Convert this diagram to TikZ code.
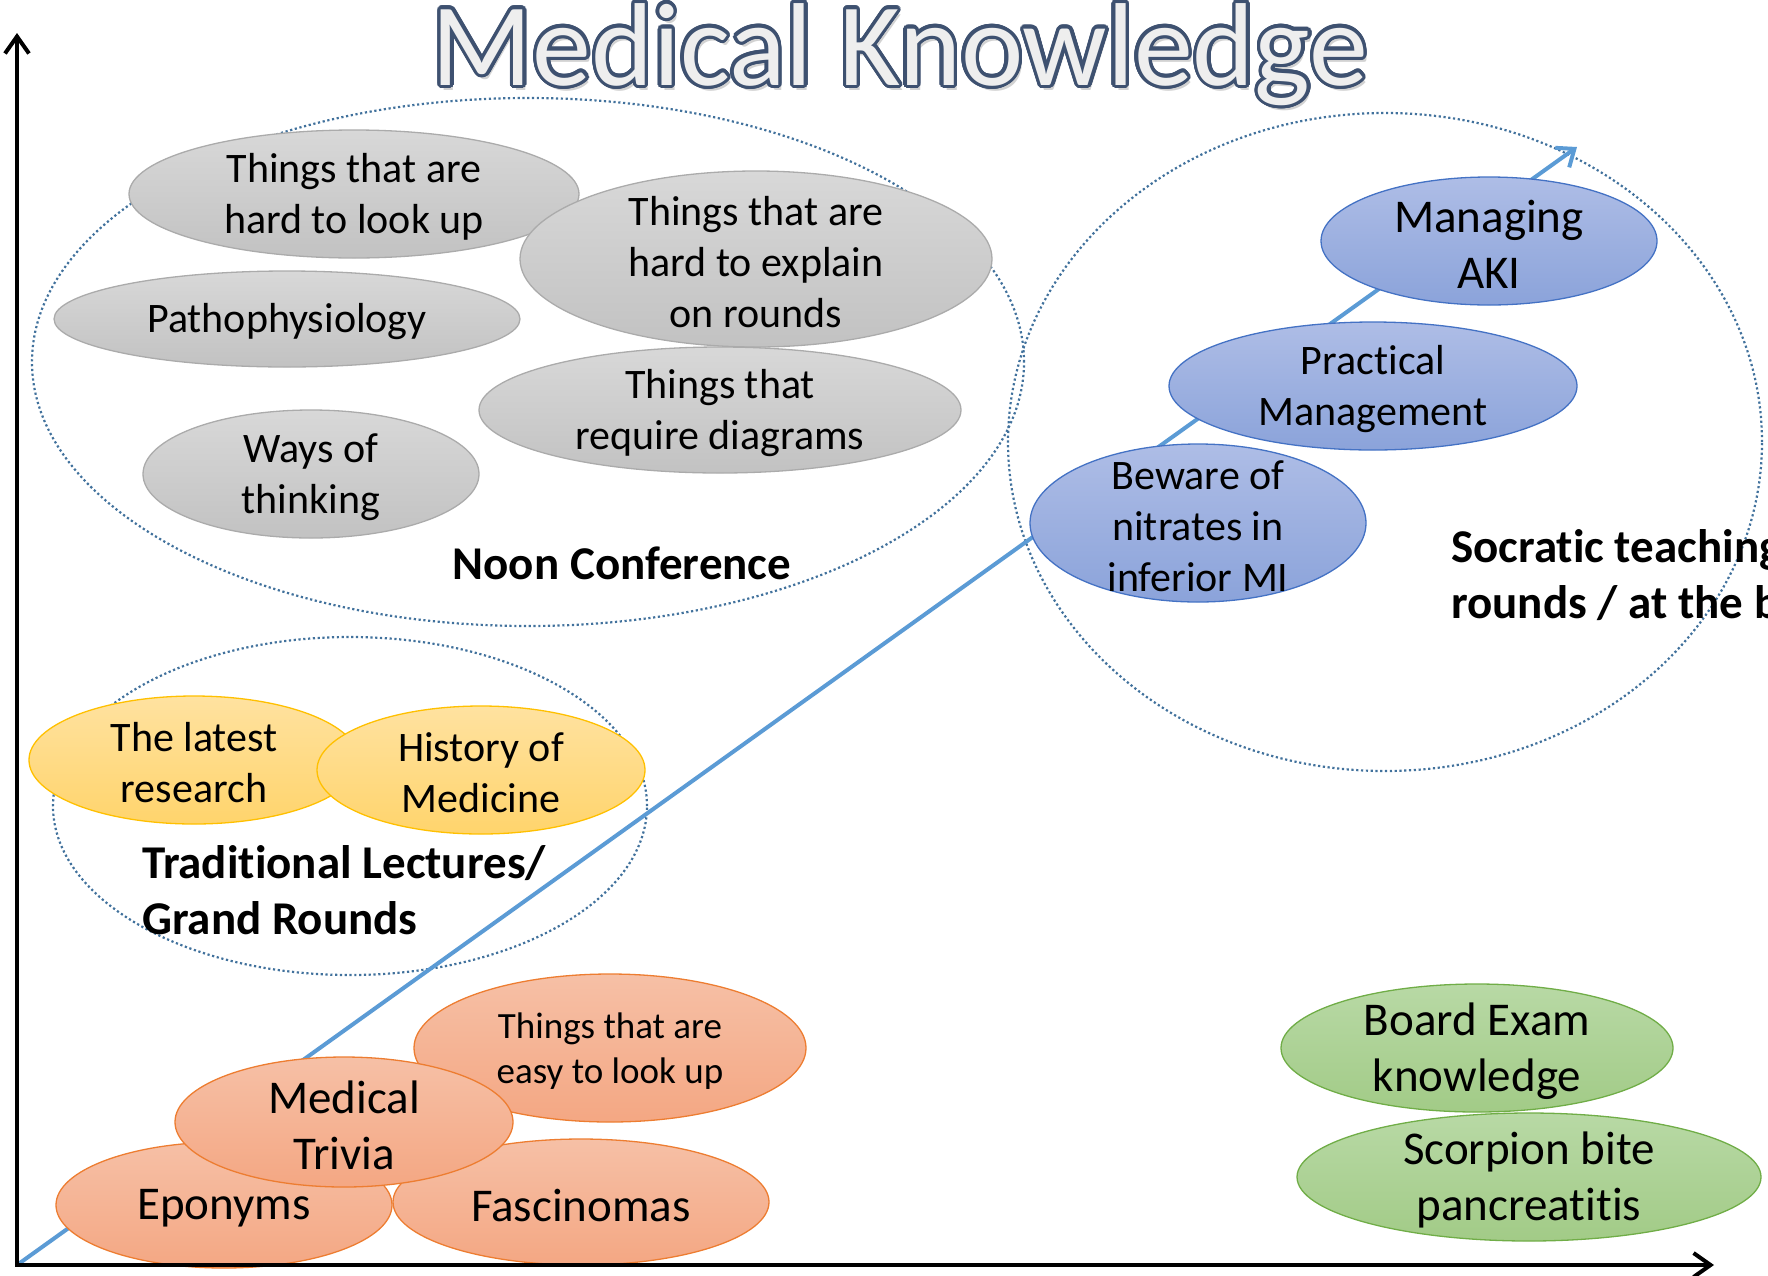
\documentclass[tikz,border=0pt]{standalone}
\usepackage{fontspec}
\setmainfont{Carlito}[Ligatures={NoCommon,NoContextual}]
\usetikzlibrary{arrows.meta,shapes.geometric}

\definecolor{grayTop}{HTML}{D8D8D8}
\definecolor{grayBot}{HTML}{C2C2C2}
\definecolor{grayEdge}{HTML}{ABABAB}
\definecolor{blueTop}{HTML}{AEBDE6}
\definecolor{blueBot}{HTML}{8BA3DA}
\definecolor{blueEdge}{HTML}{4472C4}
\definecolor{yelTop}{HTML}{FFE2A0}
\definecolor{yelBot}{HTML}{FFD46C}
\definecolor{yelEdge}{HTML}{FFC000}
\definecolor{oraTop}{HTML}{F6C0A6}
\definecolor{oraBot}{HTML}{F4A783}
\definecolor{oraEdge}{HTML}{ED7D31}
\definecolor{grnTop}{HTML}{B8D9A5}
\definecolor{grnBot}{HTML}{A2CB87}
\definecolor{grnEdge}{HTML}{70AD47}
\definecolor{dotBlue}{HTML}{41719C}
\definecolor{trend}{HTML}{5B9BD5}
\definecolor{titleFill}{HTML}{EEEEEE}
\definecolor{titleEdge}{HTML}{3E5170}

\tikzset{
  bubble/.style={ellipse, inner sep=0pt, line width=1.3pt},
  graybub/.style={bubble, draw=grayEdge, top color=grayTop, bottom color=grayBot},
  bluebub/.style={bubble, draw=blueEdge, top color=blueTop, bottom color=blueBot},
  yelbub/.style={bubble, draw=yelEdge, top color=yelTop, bottom color=yelBot},
  orabub/.style={bubble, draw=oraEdge, top color=oraTop, bottom color=oraBot},
  grnbub/.style={bubble, draw=grnEdge, top color=grnTop, bottom color=grnBot},
  txt/.style={align=center, inner sep=0pt, yshift=-3pt, font=\fontsize{42}{51}\selectfont},
  bigtxt/.style={align=center, inner sep=0pt, yshift=-3pt, font=\fontsize{47}{56}\selectfont},
  smalltxt/.style={align=center, inner sep=0pt, yshift=-3pt, font=\fontsize{37}{45}\selectfont},
  grouplbl/.style={align=left, inner sep=0pt, font=\fontsize{47}{56}\selectfont\bfseries},
  group/.style={ellipse, inner sep=0pt, draw=dotBlue, line width=2.2pt,
                dash pattern=on 2.2pt off 2.6pt},
  axis/.style={line width=4pt, black, line join=miter,
               {Straight Barb[length=17pt,width=24pt]}-{Straight Barb[length=17pt,width=24pt]}},
  trendline/.style={line width=4pt, trend,
                    -{Straight Barb[length=15pt,width=24pt]}},
  titlestyle/.style={inner sep=0pt, anchor=base, font=\fontsize{118}{130}\selectfont},
}

\begin{document}
\begin{tikzpicture}[x=1pt,y=-1pt]
  \useasboundingbox (0,0) rectangle (1768,1275);
  \clip (0,0) rectangle (1768,1275);

  % dotted groupings
  \node[group, minimum width=992pt, minimum height=528pt] (noon) at (528,362) {};
  \node[group, minimum width=754pt, minimum height=658pt] (socratic) at (1385,442) {};
  \node[group, minimum width=594pt, minimum height=338pt] (lectures) at (350,806) {};

  % trend arrow from the origin
  \coordinate (origin) at (17,1265);
  \coordinate (trendEnd) at (1577,147);
  \draw[trendline] (origin) -- (trendEnd);

  % noon conference topics
  \node[graybub, minimum width=450pt, minimum height=128pt] (lookup) at (354,194) {};
  \node[graybub, minimum width=472pt, minimum height=176pt] (explain) at (756,259) {};
  \node[graybub, minimum width=466pt, minimum height=96pt] (patho) at (287,319) {};
  \node[graybub, minimum width=482pt, minimum height=126pt] (diagrams) at (720,410) {};
  \node[graybub, minimum width=336pt, minimum height=128pt] (ways) at (311,474) {};
  \node[txt] (lookup-t) at (lookup) {Things that are\\hard to look up};
  \node[txt] (explain-t) at (explain) {Things that are\\hard to explain\\on rounds};
  \node[txt] (patho-t) at (patho) {Pathophysiology};
  \node[txt] (diagrams-t) at (diagrams) {Things that\\require diagrams};
  \node[txt] (ways-t) at (ways) {Ways of\\thinking};

  % bedside topics
  \node[bluebub, minimum width=336pt, minimum height=128pt] (aki) at (1489,241) {};
  \node[bluebub, minimum width=408pt, minimum height=128pt] (practical) at (1373,386) {};
  \node[bluebub, minimum width=336pt, minimum height=158pt] (nitrates) at (1198,523) {};
  \node[bigtxt] (aki-t) at (aki) {Managing\\AKI};
  \node[txt] (practical-t) at (practical) {Practical\\Management};
  \node[txt] (nitrates-t) at (nitrates) {Beware of\\nitrates in\\inferior MI};

  % lecture topics
  \node[yelbub, minimum width=330pt, minimum height=128pt] (research) at (194,760) {};
  \node[yelbub, minimum width=328pt, minimum height=128pt] (history) at (481,770) {};
  \node[txt] (research-t) at (research) {The latest\\research};
  \node[txt] (history-t) at (history) {History of\\Medicine};

  % trivia
  \node[orabub, minimum width=336pt, minimum height=126pt] (eponyms) at (224,1205) {};
  \node[orabub, minimum width=376pt, minimum height=126pt] (fascinomas) at (581,1202) {};
  \node[orabub, minimum width=392pt, minimum height=148pt] (easy) at (610,1048) {};
  \node[orabub, minimum width=338pt, minimum height=130pt] (trivia) at (344,1122) {};
  \node[bigtxt] (eponyms-t) at (eponyms) {Eponyms};
  \node[bigtxt] (fascinomas-t) at (fascinomas) {Fascinomas};
  \node[smalltxt] (easy-t) at (easy) {Things that are\\easy to look up};
  \node[bigtxt] (trivia-t) at (trivia) {Medical\\Trivia};

  % board exam material
  \node[grnbub, minimum width=392pt, minimum height=128pt] (board) at (1477,1048) {};
  \node[grnbub, minimum width=464pt, minimum height=128pt] (scorpion) at (1529,1177) {};
  \node[bigtxt] (board-t) at (board) {Board Exam\\knowledge};
  \node[bigtxt] (scorpion-t) at (scorpion) {Scorpion bite\\pancreatitis};

  % group labels (base anchor sits on the last line)
  \node[grouplbl, anchor=base] (noon-t) at (622,579) {Noon Conference};
  \node[grouplbl, anchor=base west] (lectures-t) at (142,934) {Traditional Lectures/\\Grand Rounds};
  \node[grouplbl, anchor=base west] (socratic-t) at (1451,618) {Socratic teaching\\rounds / at the bedside};

  % axes
  \coordinate (yTop) at (17,33);
  \coordinate (xEnd) at (1714,1265);
  \draw[axis] (yTop) -- (origin) -- (xEnd);

  % title with outlined letters
  \node[titlestyle, text=black!35, opacity=0.5, xshift=3pt, yshift=-5pt] (title-shadow) at (900,85) {Medical Knowledge};
  \foreach \a in {0,15,...,345}
    \node[titlestyle, text=titleEdge, xshift={3.4*cos(\a)}, yshift={3.4*sin(\a)}] (title-edge-\a) at (900,85) {Medical Knowledge};
  \node[titlestyle, text=titleFill] (title) at (900,85) {Medical Knowledge};
\end{tikzpicture}
\end{document}
